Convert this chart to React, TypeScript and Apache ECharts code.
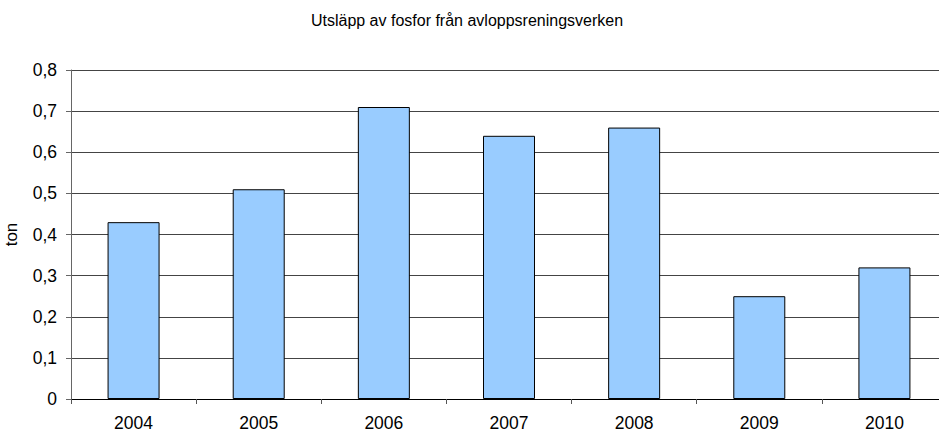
import React, { useEffect, useRef } from "react";
import * as echarts from "echarts";

const titleText = "Utsläpp av fosfor från avloppsreningsverken";
const yAxisName = "ton";
const years = ["2004", "2005", "2006", "2007", "2008", "2009", "2010"];
const emissions = [0.43, 0.51, 0.71, 0.64, 0.66, 0.25, 0.32];

export default function App() {
  const ref = useRef<HTMLDivElement>(null);
  useEffect(() => {
    if (!ref.current) return;
    const chart = echarts.init(ref.current, null, { renderer: "svg" });
    const font = "'Liberation Sans', Arial, sans-serif";
    chart.setOption({
      animation: false,
      backgroundColor: "#ffffff",
      title: {
        text: titleText,
        left: 467,
        textAlign: "center",
        top: 12,
        padding: 0,
        textStyle: { fontFamily: font, fontSize: 16, fontWeight: "normal", color: "#000" },
      },
      grid: {
        left: 71,
        width: 876,
        top: 70,
        bottom: 34,
        containLabel: false,
        outerBoundsMode: "none",
      },
      xAxis: {
        type: "category",
        data: years,
        axisLine: { lineStyle: { color: "#000", width: 1 } },
        axisTick: { show: true, length: 5, lineStyle: { color: "#555" } },
        axisLabel: { fontFamily: font, fontSize: 17.5, color: "#000", margin: 15 },
      },
      yAxis: {
        type: "value",
        min: 0,
        max: 0.8,
        interval: 0.1,
        name: yAxisName,
        nameLocation: "middle",
        nameGap: 51,
        nameTextStyle: { fontFamily: font, fontSize: 17, color: "#000" },
        axisLine: { show: true, lineStyle: { color: "#666", width: 1 } },
        axisTick: { show: true, length: 5, lineStyle: { color: "#666" } },
        axisLabel: {
          fontFamily: font,
          fontSize: 17.5,
          color: "#000",
          margin: 14,
          formatter: (v: number) => (Math.round(v * 10) / 10).toString().replace(".", ","),
        },
        splitLine: { show: true, lineStyle: { color: "#444", width: 1 } },
      },
      series: [
        {
          type: "bar",
          data: emissions,
          barWidth: 52,
          itemStyle: { color: "#99CCFF", borderColor: "#000", borderWidth: 1 },
        },
      ],
    });
    return () => chart.dispose();
  }, []);
  return (
    <div
      ref={ref}
      style={{ position: "fixed", left: 0, top: 0, width: 939, height: 433, overflow: "hidden" }}
    />
  );
}
